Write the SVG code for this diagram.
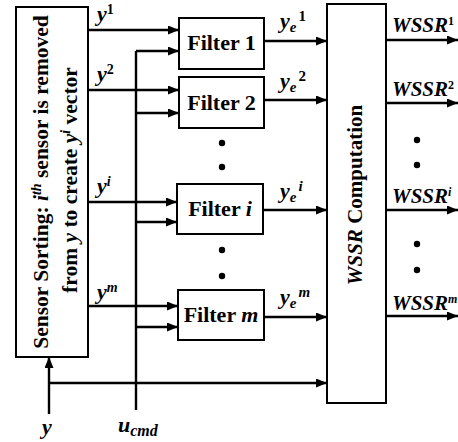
<svg xmlns="http://www.w3.org/2000/svg" width="458" height="442" viewBox="0 0 458 442" font-family="'Liberation Serif', 'Times New Roman', 'DejaVu Serif', serif" font-weight="bold">
<style>
.box{fill:#fff;stroke:#000;stroke-width:2}
.ln{fill:none;stroke:#000;stroke-width:2.4}
.arr{marker-end:url(#ah)}
.ft{font-size:22px;text-anchor:middle}
.it{font-style:italic}
.lab{font-size:22px;font-style:italic}
.ws{font-size:21px;font-style:italic}
.dot{fill:#000}
</style>
<defs>
<marker id="ah" markerUnits="userSpaceOnUse" markerWidth="11" markerHeight="9" refX="11" refY="4.5" orient="auto">
<path d="M0,0 L11,4.5 L0,9 z" fill="#000"/>
</marker>
</defs>
<g id="connectors">
<path class="ln arr" d="M88,30 H179"/>
<path class="ln arr" d="M88,90 H179"/>
<path class="ln arr" d="M88,202 H177"/>
<path class="ln arr" d="M88,306 H178"/>
<path class="ln" d="M136,410 V51"/>
<path class="ln arr" d="M136,51 H179"/>
<path class="ln arr" d="M136,113 H179"/>
<path class="ln arr" d="M136,222 H177"/>
<path class="ln arr" d="M136,327 H178"/>
<path class="ln arr" d="M49,414 V357"/>
<path class="ln arr" d="M49,383 H327"/>
<path class="ln arr" d="M264,41 H327"/>
<path class="ln arr" d="M264,100 H327"/>
<path class="ln arr" d="M263,210 H327"/>
<path class="ln arr" d="M264,317 H327"/>
<path class="ln arr" d="M386,40 H458"/>
<path class="ln arr" d="M386,103 H458"/>
<path class="ln arr" d="M386,210 H458"/>
<path class="ln arr" d="M386,316 H458"/>
</g>
<g id="sorting">
<rect class="box" x="16" y="7" width="72" height="350"/>
<text font-size="21.5" text-anchor="middle" transform="translate(48,182) rotate(-90)">Sensor Sorting: <tspan class="it">i</tspan><tspan class="it" font-size="14" dy="-7">th</tspan><tspan dy="7"> sensor is removed</tspan></text>
<text font-size="21.5" text-anchor="middle" transform="translate(77,180) rotate(-90)">from <tspan class="it">y</tspan> to create <tspan class="it">y</tspan><tspan class="it" font-size="14" dy="-7">i</tspan><tspan dy="7"> vector</tspan></text>
</g>
<g id="filter1">
<rect class="box" x="179" y="18" width="85" height="51"/>
<text class="ft" x="221.5" y="50">Filter 1</text>
</g>
<g id="filter2">
<rect class="box" x="179" y="77" width="85" height="51"/>
<text class="ft" x="221.5" y="110">Filter 2</text>
</g>
<g id="filteri">
<rect class="box" x="177" y="184" width="86" height="50"/>
<text class="ft" x="220" y="216">Filter <tspan class="it">i</tspan></text>
</g>
<g id="filterm">
<rect class="box" x="178" y="290" width="86" height="50"/>
<text class="ft" x="221" y="322">Filter <tspan class="it">m</tspan></text>
</g>
<g id="wssr">
<rect class="box" x="327" y="4" width="59" height="399"/>
<text font-size="21" text-anchor="middle" transform="translate(362,195) rotate(-90)"><tspan class="it">WSSR</tspan> Computation</text>
</g>
<g id="dots">
<circle class="dot" cx="222" cy="143" r="3.2"/>
<circle class="dot" cx="222" cy="167" r="3.2"/>
<circle class="dot" cx="222" cy="250" r="3.2"/>
<circle class="dot" cx="222" cy="276" r="3.2"/>
<circle class="dot" cx="417" cy="140" r="3.2"/>
<circle class="dot" cx="417" cy="165" r="3.2"/>
<circle class="dot" cx="417" cy="244" r="3.2"/>
<circle class="dot" cx="417" cy="270" r="3.2"/>
</g>
<g id="labels">
<text class="lab" x="97" y="21">y<tspan font-size="14" dy="-7" font-style="normal">1</tspan></text>
<text class="lab" x="97" y="81">y<tspan font-size="14" dy="-7" font-style="normal">2</tspan></text>
<text class="lab" x="97" y="193">y<tspan font-size="14" dy="-7">i</tspan></text>
<text class="lab" x="97" y="299">y<tspan font-size="14" dy="-7">m</tspan></text>
<text class="lab" x="280" y="28">y<tspan font-size="15" dy="4">e</tspan><tspan font-size="15" dx="2" dy="-11" font-style="normal">1</tspan></text>
<text class="lab" x="280" y="88">y<tspan font-size="15" dy="4">e</tspan><tspan font-size="15" dx="2" dy="-11" font-style="normal">2</tspan></text>
<text class="lab" x="280" y="198">y<tspan font-size="15" dy="4">e</tspan><tspan font-size="15" dx="2" dy="-11">i</tspan></text>
<text class="lab" x="280" y="304">y<tspan font-size="15" dy="4">e</tspan><tspan font-size="15" dx="2" dy="-11">m</tspan></text>
<text class="ws" x="392" y="32">WSSR<tspan font-size="12" dy="-7" font-style="normal">1</tspan></text>
<text class="ws" x="392" y="96">WSSR<tspan font-size="12" dy="-7" font-style="normal">2</tspan></text>
<text class="ws" x="392" y="203">WSSR<tspan font-size="12" dy="-7">i</tspan></text>
<text class="ws" x="392" y="310">WSSR<tspan font-size="12" dy="-7">m</tspan></text>
<text class="lab" x="42" y="434">y</text>
<text class="lab" x="118" y="432">u<tspan font-size="16" dy="4">cmd</tspan></text>
</g>
</svg>
